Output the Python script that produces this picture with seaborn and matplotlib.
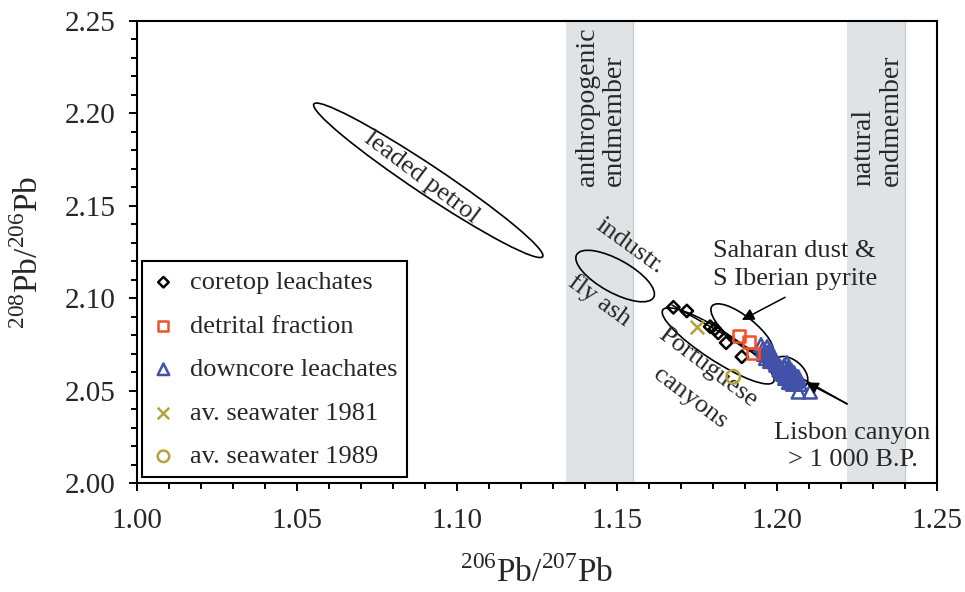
import numpy as np
import pandas as pd
import seaborn as sns
import matplotlib
matplotlib.use("Agg")
import matplotlib.pyplot as plt
from matplotlib.patches import Ellipse
from matplotlib.transforms import Affine2D

# --- data ---
coretop_x = [1.1677, 1.1719, 1.1792, 1.1807, 1.1817, 1.1842, 1.1891]
coretop_y = [2.0951, 2.0931, 2.0846, 2.0833, 2.0812, 2.0759, 2.0683]

detrital_x = [1.1882, 1.1913, 1.1926]
detrital_y = [2.0795, 2.0763, 2.0701]

downcore_x = [1.1951, 1.1957, 1.1963, 1.1970, 1.1976, 1.1966, 1.1982, 1.1988,
              1.1979, 1.1995, 1.2004, 1.2010, 1.2017, 1.2023, 1.2029, 1.2035,
              1.2042, 1.2026, 1.2048, 1.2054, 1.2060, 1.2038, 1.2067, 1.2073,
              1.2020, 1.2032, 1.2051, 1.1960, 1.1972, 1.1985, 1.1998, 1.2008,
              1.2014, 1.2027, 1.2040, 1.2046, 1.2058, 1.2033, 1.2044,
              1.2068, 1.2104]
downcore_y = [2.0747, 2.0725, 2.0709, 2.0736, 2.0693, 2.0676, 2.0714, 2.0682,
              2.0660, 2.0655, 2.0644, 2.0628, 2.0611, 2.0633, 2.0601, 2.0622,
              2.0584, 2.0568, 2.0563, 2.0595, 2.0552, 2.0547, 2.0574, 2.0536,
              2.0590, 2.0649, 2.0536, 2.0698, 2.0705, 2.0670, 2.0640, 2.0615,
              2.0600, 2.0580, 2.0570, 2.0608, 2.0560, 2.0612, 2.0545,
              2.0494, 2.0494]

sw1981_x, sw1981_y = [1.1752], [2.0846]
sw1989_x, sw1989_y = [1.1864], [2.0575]

# mixing line
mix_x = [1.1673, 1.2220]
mix_y = [2.0963, 2.0428]

# endmember bands
anthro_band = (1.134, 1.155)
natural_band = (1.222, 1.240)

# fields: centre (x, y), length and width (px), angle (deg)
fields = {
    "leaded petrol": ((1.0911, 2.1638), 275, 29, -33.7),
    "industr. fly ash": ((1.1495, 2.1120), 88, 33, -29),
    "Portuguese canyons": ((1.1817, 2.0742), 132, 30, -33),
    "Saharan dust": ((1.1892, 2.0828), 77, 27, -38.5),
    "Lisbon canyon": ((1.2043, 2.0598), 40, 25, -40),
}

# --- styling ---
sns.set_theme(style="ticks")
plt.rcParams["font.family"] = ["Liberation Serif", "DejaVu Serif"]
plt.rcParams["mathtext.fontset"] = "custom"
plt.rcParams["mathtext.rm"] = "Liberation Serif"

serif = "Liberation Serif"
olive = "#b3a33a"

fig = plt.figure(figsize=(9.65, 5.92), dpi=100)
ax = fig.add_axes([0.1417, 0.1841, 0.829, 0.7804])

ax.axvspan(*anthro_band, color="#dfe3e5", zorder=0, lw=0)
ax.axvspan(*natural_band, color="#dfe3e5", zorder=0, lw=0)
ax.axvline(anthro_band[1], color="#c4c8ca", lw=0.8, zorder=0)
ax.axvline(natural_band[1], color="#c4c8ca", lw=0.8, zorder=0)

# ellipses drawn in a space scaled like the page
SX, SY = 3200.0, 1848.0
px = Affine2D().scale(1 / SX, 1 / SY) + ax.transData
for (cx, cy), w, h, ang in fields.values():
    e = Ellipse((cx * SX, cy * SY), w, h, angle=ang, transform=px,
                fill=False, ec="black", lw=1.2, zorder=2)
    ax.add_patch(e)

ax.plot(mix_x, mix_y, color="black", lw=1.1, zorder=2)

sns.scatterplot(x=coretop_x, y=coretop_y, ax=ax, marker="D", s=40,
                color="black", facecolor="none", edgecolor="black",
                linewidth=1.8, label="coretop leachates", zorder=4)
sns.scatterplot(x=detrital_x, y=detrital_y, ax=ax, marker="s", s=72,
                color="#f0502a", facecolor="none", edgecolor="#f0502a",
                linewidth=1.8, label="detrital fraction", zorder=4)
sns.scatterplot(x=downcore_x, y=downcore_y, ax=ax, marker="^", s=95,
                color="#4152a8", facecolor="none", edgecolor="#4152a8",
                linewidth=1.8, label="downcore leachates", zorder=3)
sns.scatterplot(x=sw1981_x, y=sw1981_y, ax=ax, marker="x", s=95,
                color=olive, linewidth=1.8, label="av. seawater 1981", zorder=4)
sns.scatterplot(x=sw1989_x, y=sw1989_y, ax=ax, marker="o", s=95,
                color=olive, facecolor="none", edgecolor=olive,
                linewidth=1.8, label="av. seawater 1989", zorder=4)

# arrows
arrow = dict(arrowstyle="-|>", color="black", lw=1.1, mutation_scale=18,
             shrinkA=0, shrinkB=0)
ax.annotate("", xy=(1.1891, 2.0882), xytext=(1.2026, 2.1005), arrowprops=arrow)
ax.annotate("", xy=(1.2092, 2.0544), xytext=(1.2220, 2.0428), arrowprops=arrow)

# labels on the chart
fs = 19
ax.text(1.0891, 2.1653, "leaded petrol", rotation=-37, rotation_mode="anchor",
        ha="center", va="center", fontsize=fs, family=serif)
ax.text(1.1542, 2.1282, "industr.", rotation=-36, rotation_mode="anchor",
        ha="center", va="center", fontsize=fs, family=serif)
ax.text(1.1445, 2.0985, "fly ash", rotation=-36, rotation_mode="anchor",
        ha="center", va="center", fontsize=fs, family=serif)
ax.text(1.1785, 2.0625, "Portuguese", rotation=-37, rotation_mode="anchor",
        ha="center", va="center", fontsize=fs, family=serif)
ax.text(1.1729, 2.0460, "canyons", rotation=-37, rotation_mode="anchor",
        ha="center", va="center", fontsize=fs, family=serif)
ax.text(1.2056, 2.1180, "Saharan dust &\nS Iberian pyrite", ha="center",
        va="center", multialignment="center", fontsize=fs, family=serif,
        linespacing=1.3)
ax.text(1.2237, 2.0200, "Lisbon canyon\n> 1 000 B.P.", ha="center",
        va="center", multialignment="center", fontsize=fs, family=serif,
        linespacing=1.3)
ax.text(1.1451, 2.1607, "anthropogenic\nendmember", rotation=90,
        ha="center", va="bottom", multialignment="left", fontsize=20,
        family=serif, linespacing=1.12)
ax.text(1.2315, 2.1607, "natural\nendmember", rotation=90,
        ha="center", va="bottom", multialignment="left", fontsize=20,
        family=serif, linespacing=1.12)

# axes
ax.set_xlim(1.00, 1.25)
ax.set_ylim(2.00, 2.25)
ax.set_xticks(np.arange(1.00, 1.2501, 0.05))
ax.set_yticks(np.arange(2.00, 2.2501, 0.05))
ax.set_xticks(np.arange(1.00, 1.2501, 0.01), minor=True)
ax.set_yticks(np.arange(2.00, 2.2501, 0.01), minor=True)
ax.set_xticklabels([f"{v:.2f}" for v in np.arange(1.00, 1.2501, 0.05)])
ax.set_yticklabels([f"{v:.2f}" for v in np.arange(2.00, 2.2501, 0.05)])
ax.tick_params(which="major", direction="out", length=6, width=1.4,
               labelsize=21, pad=9, color="black")
ax.tick_params(axis="x", which="major", pad=12)
ax.tick_params(which="minor", direction="out", length=4.5, width=1.4,
               color="black")
ax.tick_params(top=False, right=False, which="both")
for sp in ax.spines.values():
    sp.set_visible(True)
    sp.set_color("black")
    sp.set_linewidth(1.5)
for lab in ax.get_xticklabels() + ax.get_yticklabels():
    lab.set_family(serif)

ax.set_xlabel(r"$^{\mathrm{206}}$Pb/$^{\mathrm{207}}$Pb", fontsize=24,
              family=serif, labelpad=16)
ax.set_ylabel(r"$^{\mathrm{208}}$Pb/$^{\mathrm{206}}$Pb", fontsize=24,
              family=serif, labelpad=14)

leg = ax.legend(loc="lower left", bbox_to_anchor=(0.007, 0.012),
                borderaxespad=0, frameon=True, fancybox=False,
                prop={"family": serif, "size": 19}, labelspacing=0.76,
                handlelength=0.9, handletextpad=0.55, borderpad=0.35,
                scatterpoints=1, markerscale=0.85)
leg.get_frame().set_edgecolor("black")
leg.get_frame().set_linewidth(1.5)
leg.get_frame().set_alpha(1)

fig.savefig("out.png", dpi=100)
